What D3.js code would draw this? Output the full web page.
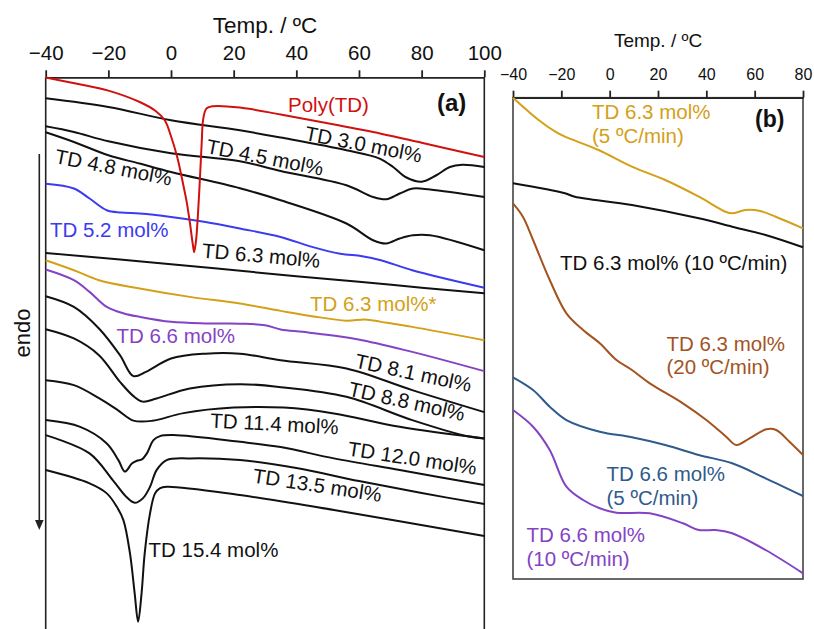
<!DOCTYPE html>
<html><head><meta charset="utf-8">
<script src="https://cdn.jsdelivr.net/npm/d3@7"></script>
<style>body{margin:0;background:#fff}svg{display:block}text{font-family:"Liberation Sans",Arial,sans-serif}</style>
</head><body><svg id="c" width="814" height="629"></svg>
<script>
// ---------- DATA ----------
const axisTitle = "Temp. / ºC";
const ticksA = [-40, -20, 0, 20, 40, 60, 80, 100];
const ticksB = [-40, -20, 0, 20, 40, 60, 80];

// Panel (a): temperature (°C) and heat flow (a.u., offset stacked)
const polyT = [-40,-30,-20,-10,-5,-2,0,2,4,5,6,7,7.4,8,9,9.8,10.3,11.3,13.4,22,35,50,67,80,100];
const polyV = [55.17,54.55,53.87,52.73,51.85,50.9,49.3,47.2,44.3,42.73,40.7,38.4,37.7,38.9,43.7,48.7,51.07,52.07,52.3,52.17,51.48,50.6,49.56,48.65,47.23];
const td30T = [-40,-20,0,22,35,56,66.6,71,75,80,84.7,89,93,100];
const td30V = [53.1,52.23,50.9,49.9,49.17,47.9,47.07,46.2,45.2,44.75,45.4,46.23,46.45,46.23];
const td45T = [-40,-31,-20,0,22,35,56,64.5,68.7,73,77.2,82.7,100];
const td45V = [50.3,49.73,48.8,47.6,46.8,45.83,44.4,43.23,43,43.57,44.07,43.97,43.23];
const td48T = [-40,-31,-20,-10,0,22,35,56,64.5,68.7,73,77.2,82.7,100];
const td48V = [49.7,48.73,47.4,46.57,45.73,44.1,42.9,40.57,38.9,38.57,39.07,39.4,39.4,37.9];
const td52T = [-40,-31,-26,-20.5,-16,-10,0,11,22,35,45,54,61,67,77,100];
const td52V = [44.55,44.07,43.07,41.9,41.67,41.57,41.23,40.73,40.07,39.23,38.23,37.55,37.3,36.9,35.9,34.15];
const td63T = [-40,0,40,60,80,100];
const td63V = [37.63,36.5,35.3,34.75,34.15,33.6];
const td63sT = [-40,-31,-23,-10,6,22,35,45,56,62,67,77,100];
const td63sV = [36.9,35.9,34.9,34.07,33.23,32.57,31.83,31.3,30.85,30.97,30.73,30.23,28.9];
const td66T = [-40,-31,-26,-20.5,-15,-10,0,11,22,30,35,42,51,61,77,100];
const td66V = [35.97,34.9,33.73,32.23,31.57,31.23,30.73,30.57,30.55,30.4,29.97,29.73,29.4,28.9,27.73,25.8];
const td81T = [-40,-31,-23,-16.3,-12,-8,0,11,22,35,56,77,100];
const td81V = [33.3,32.23,30.07,27.4,25.3,25.73,27.07,27.55,27.55,26.9,26.07,23.9,21.7];
const td88T = [-40,-31,-23,-16.3,-12,-9,-4.6,6,22,35,56,77,95,100];
const td88V = [30,29.07,27.4,24.73,23.3,22.75,23.07,24.07,24.5,24.2,23.23,20.9,19.25,19.07];
const td114T = [-40,-31,-23,-17,-12,-6,4,20,36,52,73,100];
const td114V = [24.9,24.4,23.1,21.9,20.85,20.83,21.6,22.15,22.15,21.57,20.23,19.07];
const td120T = [-40,-29,-20.5,-16.8,-14.7,-12.5,-10.9,-9.3,-7.7,-5.6,-3.5,0.7,22,35,52,73,100];
const td120V = [20.9,20.23,18.57,16.9,15.75,16.55,16.83,16.97,17.57,18.9,19.3,19.4,18.73,18.2,17.07,15.9,14.4];
const td135T = [-40,-26,-18.6,-14.3,-11.6,-9,-6.7,-4.6,-1.4,6,22,40,60,80,100];
const td135V = [19.4,17.57,14.9,13.23,12.63,13.07,14.23,15.9,16.9,17.07,16.9,16.1,14.8,13.6,12.5];
const td154T = [-40,-26,-20.5,-17.3,-15.2,-13.1,-11.6,-10.5,-9.4,-8.4,-6.7,-5.1,-3.6,-1.4,22,52,100];
const td154V = [15.9,14.57,13.57,12.23,10.9,7.57,3.57,0.73,3.57,7.57,11.57,13.57,14.07,14.23,13.4,11.9,9.3];

// Panel (b)
const b63r5T = [-40,-29.4,-22.5,-18.5,-4.6,9.2,23,36.9,47.9,50.7,56.3,61.8,68.7,80];
const b63r5V = [48.13,45.9,44.73,44.23,42.9,41.23,39.9,38.23,36.73,36.57,36.9,36.83,36.23,35.07];
const b63r10T = [-40,-18.5,-14.4,9.2,36.9,50.7,64.5,80];
const b63r10V = [39.57,38.57,38.23,37.4,36.07,35.23,34.4,33.17];
const b63r20T = [-40,-35.9,-31.7,-24.8,-17.9,-11,-4.1,2.8,9.2,16.6,30.3,40,48.2,52.4,57.9,64.8,68.9,74.4,80];
const b63r20V = [37.57,36.23,33.9,29.9,26.57,24.9,23.57,21.9,20.9,19.57,17.57,15.9,14.23,13.4,14.07,14.97,14.9,13.73,12.4];
const b66r5T = [-40,-31.7,-24.8,-17.9,-4.1,9.2,23,36.9,50.7,64.5,80];
const b66r5V = [20.17,18.9,17.23,15.9,14.73,14.17,13.4,12.4,11.57,10.07,8.3];
const b66r10T = [-40,-31.7,-24.8,-17.9,-11,-4.1,2.8,16.6,30.3,36.9,43.8,50.7,64.5,80];
const b66r10V = [16.9,15.23,12.9,9.23,7.9,7.07,6.63,6.57,5.57,4.9,4.9,4.57,2.9,0.57];

// ---------- COLOURS ----------
const cRed = "#d11010", cBlue = "#3b3bef", cGold = "#d4a017", cPurple = "#8443c4",
      cBrown = "#a3531f", cNavy = "#2f5a8c", cBlack = "#111";

// ---------- DRAW ----------
const svg = d3.select("#c");
const xA = d3.scaleLinear([-40, 100], [45.7, 484.3]);
const yA = d3.scaleLinear([0, 55.2], [629, 77.3]);
const xB = d3.scaleLinear([-40, 80], [513, 803]);
const yB = d3.scaleLinear([0, 48.13], [579, 97.7]);

const zip = (T, V) => T.map((t, i) => [t, V[i]]);
function curve(x, y, T, V, color) {
  const line = d3.line().x(d => x(d[0])).y(d => y(d[1])).curve(d3.curveCatmullRom.alpha(0.5));
  svg.append("path").attr("d", line(zip(T, V))).attr("fill", "none")
    .attr("stroke", color).attr("stroke-width", 2).attr("stroke-linejoin", "round");
}

// frames
const gA = svg.append("g");
gA.append("line").attr("x1", xA(-40)).attr("x2", xA(-40)).attr("y1", yA(55.2)).attr("y2", 640).attr("stroke", "#222").attr("stroke-width", 1.6);
gA.append("line").attr("x1", xA(100)).attr("x2", xA(100)).attr("y1", yA(55.2)).attr("y2", 640).attr("stroke", "#222").attr("stroke-width", 1.6);
svg.append("rect").attr("x", xB(-40)).attr("y", yB(48.13)).attr("width", xB(80) - xB(-40))
  .attr("height", yB(0) - yB(48.13)).attr("fill", "none").attr("stroke", "#444").attr("stroke-width", 1.6);

// axes
function styleAxis(g, fs) {
  g.selectAll("path.domain").attr("stroke", "#222").attr("stroke-width", 1.8);
  g.selectAll(".tick line").attr("stroke", "#222").attr("stroke-width", 1.8);
  g.selectAll(".tick text").attr("fill", "#111").style("font-size", fs + "px")
    .style("font-family", '"Liberation Sans", Arial, sans-serif');
}
const axA = svg.append("g").attr("transform", `translate(0,${yA(55.2)})`)
  .call(d3.axisTop(xA).tickValues(ticksA).tickFormat(d3.format("d")).tickSize(7).tickSizeOuter(0).tickPadding(10.3));
styleAxis(axA, 20.5);
const axB = svg.append("g").attr("transform", `translate(0,${yB(48.13)})`)
  .call(d3.axisTop(xB).tickValues(ticksB).tickFormat(d3.format("d")).tickSize(7).tickSizeOuter(0).tickPadding(10.7));
styleAxis(axB, 16);

svg.append("text").attr("x", (xA(-40) + xA(100)) / 2).attr("y", 32.5).attr("text-anchor", "middle")
  .style("font-size", "22.5px").attr("fill", "#111").text(axisTitle);
svg.append("text").attr("x", (xB(-40) + xB(80)) / 2).attr("y", 47).attr("text-anchor", "middle")
  .style("font-size", "19px").attr("fill", "#111").text(axisTitle);

// curves panel (a)
curve(xA, yA, td30T, td30V, cBlack);
curve(xA, yA, td45T, td45V, cBlack);
curve(xA, yA, td48T, td48V, cBlack);
curve(xA, yA, td52T, td52V, cBlue);
curve(xA, yA, td63T, td63V, cBlack);
curve(xA, yA, td63sT, td63sV, cGold);
curve(xA, yA, td66T, td66V, cPurple);
curve(xA, yA, td81T, td81V, cBlack);
curve(xA, yA, td88T, td88V, cBlack);
curve(xA, yA, td114T, td114V, cBlack);
curve(xA, yA, td120T, td120V, cBlack);
curve(xA, yA, td135T, td135V, cBlack);
curve(xA, yA, td154T, td154V, cBlack);
curve(xA, yA, polyT, polyV, cRed);

// curves panel (b)
curve(xB, yB, b63r5T, b63r5V, cGold);
curve(xB, yB, b63r10T, b63r10V, cBlack);
curve(xB, yB, b63r20T, b63r20V, cBrown);
curve(xB, yB, b66r5T, b66r5V, cNavy);
curve(xB, yB, b66r10T, b66r10V, cPurple);

// labels
function label(txt, x, y, color, rot = 0, fs = 20.5, weight = "normal") {
  svg.append("text").attr("x", x).attr("y", y).attr("fill", color)
    .attr("transform", rot ? `rotate(${rot},${x},${y})` : null)
    .style("font-size", fs + "px").style("font-weight", weight).text(txt);
}
label("Poly(TD)", 288, 111.5, cRed);
label("(a)", 437, 111, "#111", 0, 24, "bold");
label("TD 3.0 mol%", 304, 140, cBlack, 11);
label("TD 4.5 mol%", 205.5, 153, cBlack, 11);
label("TD 4.8 mol%", 54, 163, cBlack, 11);
label("TD 5.2 mol%", 50, 236.5, cBlue);
label("TD 6.3 mol%", 201.5, 257.5, cBlack, 5);
label("TD 6.3 mol%*", 310, 311, cGold);
label("TD 6.6 mol%", 116.5, 343, cPurple);
label("TD 8.1 mol%", 354, 367.5, cBlack, 12);
label("TD 8.8 mol%", 347.5, 395.5, cBlack, 12.5);
label("TD 11.4 mol%", 210, 427.5, cBlack, 3);
label("TD 12.0 mol%", 347, 455.5, cBlack, 8.6);
label("TD 13.5 mol%", 252, 482.5, cBlack, 8.6);
label("TD 15.4 mol%", 148.5, 557, cBlack);

label("(b)", 755, 127, "#111", 0, 23, "bold");
label("TD 6.3 mol%", 592, 119.3, cGold);
label("(5 ºC/min)", 592, 143, cGold);
label("TD 6.3 mol% (10 ºC/min)", 560, 270, cBlack);
label("TD 6.3 mol%", 666.5, 351, cBrown);
label("(20 ºC/min)", 666.5, 374, cBrown);
label("TD 6.6 mol%", 606.5, 480.7, cNavy);
label("(5 ºC/min)", 606.5, 505, cNavy);
label("TD 6.6 mol%", 526.5, 541.7, cPurple);
label("(10 ºC/min)", 526.5, 566, cPurple);

// endo arrow
svg.append("line").attr("x1", 39.3).attr("x2", 39.3).attr("y1", 154).attr("y2", 522)
  .attr("stroke", "#222").attr("stroke-width", 1.6);
svg.append("path").attr("d", d3.line()([[35, 520], [43.6, 520], [39.3, 530]])).attr("fill", "#222");
svg.append("text").attr("transform", "translate(30,333) rotate(-90)").attr("text-anchor", "middle")
  .style("font-size", "22px").attr("fill", "#111").text("endo");
</script></body></html>
